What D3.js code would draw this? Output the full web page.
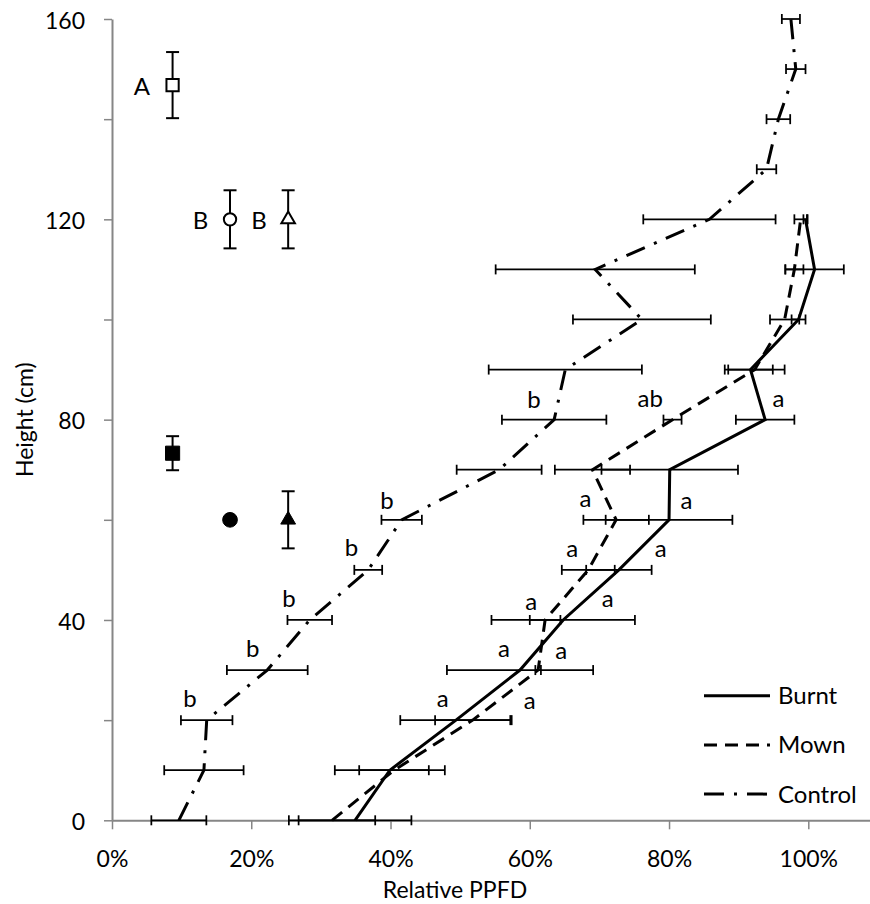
<!DOCTYPE html>
<html>
<head>
<meta charset="utf-8">
<script src="https://cdn.jsdelivr.net/npm/d3@7/dist/d3.min.js"></script>
<style>
body { margin: 0; background: #fff; }
</style>
</head>
<body>
<div id="wrapper"></div>
<script>
width = 870
height = 904

// heights of the light readings (cm)
const heights = [0, 10, 20, 30, 40, 50, 60, 70, 80, 90, 100, 110, 120, 130, 140, 150, 160]

// relative PPFD (%) and error
const burntMean = [34.9, 39.9, 49.4, 58.6, 64.8, 72.8, 80.0, 80.1, 93.8, 91.7, 98.6, 100.9, 99.6]
const burntErr = [8.1, 7.9, 8.0, 10.5, 10.3, 4.7, 9.1, 9.8, 4.2, 3.2, 1.0, 4.2, 0.3]
const mownMean = [31.6, 40.5, 51.8, 61.2, 62.2, 68.4, 72.4, 69.0, 80.5, 92.3, 96.6, 98.0, 98.9]
const mownErr = [6.2, 5.0, 5.4, 0.4, 2.2, 3.8, 4.7, 5.4, 1.3, 4.3, 2.1, 1.3, 0.9]
const controlMean = [9.6, 13.2, 13.6, 22.3, 28.4, 36.8, 41.6, 55.6, 63.5, 65.1, 76.1, 69.4, 85.8, 94.0, 95.7, 98.2, 97.5]
const controlErr = [3.95, 5.7, 3.7, 5.8, 3.2, 2.0, 2.9, 6.1, 7.5, 11.0, 9.9, 14.3, 9.5, 1.4, 1.7, 1.4, 1.3]

// canopy height markers (open / filled): square, circle, triangle
const markerShape = ["square", "circle", "triangle", "square", "circle", "triangle"]
const markerFilled = [false, false, false, true, true, true]
const markerX = [8.7, 16.95, 25.3, 8.7, 16.95, 25.3]
const markerH = [146.8, 120, 120, 73.3, 60, 60]
const markerErr = [6.6, 5.8, 5.8, 3.4, 0, 5.7]

// letters: text, x (%), baseline height (cm)
const letterText = ["A", "B", "B",
    "b", "b", "b", "b", "b", "b",
    "ab", "a", "a", "a", "a", "a", "a", "a", "a", "a", "a", "a"]
const letterX = [4.3, 12.7, 21.1,
    60.6, 39.5, 34.4, 25.4, 20.2, 11.2,
    77.3, 95.7, 68.0, 82.5, 66.1, 78.8, 60.2, 71.2, 56.3, 64.5, 47.5, 60.0]
const letterH = [144.8, 118.1, 118.1,
    82.3, 62.1, 52.8, 42.5, 32.7, 22.6,
    82.6, 82.6, 62.6, 62.2, 52.6, 52.6, 42.0, 42.6, 32.7, 32.2, 22.6, 22.2]

const seriesNames = ["Burnt", "Mown", "Control"]
const seriesDash = [null, "13,8", "20,10,3,10"]

const xTicks = [0, 20, 40, 60, 80, 100]
const yTicks = [0, 20, 40, 60, 80, 100, 120, 140, 160]

const font = "Lato, 'Open Sans', sans-serif"
const axisGrey = "#868686"

const svg = d3.select("#wrapper").append("svg")
    .attr("width", width)
    .attr("height", height)
    .style("font-family", font)
    .style("display", "block")

var x = d3.scaleLinear()
    .domain([0, 125])
    .range([112, 112 + 125 * 6.963])

var y = d3.scaleLinear()
    .domain([0, 160])
    .range([820.3, 19])

// axes
var xAxis = g => g
    .attr("transform", `translate(0, ${y(0)})`)
    .call(d3.axisBottom(x).tickValues(xTicks).tickFormat(d => d + "%").tickSize(9).tickSizeOuter(0))
    .call(g => g.select(".domain").attr("stroke", axisGrey).attr("stroke-width", 2))
    .call(g => g.selectAll(".tick line").attr("stroke", axisGrey).attr("stroke-width", 1.5))
    .call(g => g.selectAll(".tick text")
        .attr("y", 47).attr("dy", 0)
        .attr("fill", "#000")
        .style("font-size", "23px").style("font-family", font))

var yAxis = g => g
    .attr("transform", `translate(${x(0)}, 0)`)
    .call(d3.axisLeft(y).tickValues(yTicks).tickFormat(d => d % 40 === 0 ? d : "").tickSize(8).tickPadding(19).tickSizeOuter(0))
    .call(g => g.select(".domain").attr("stroke", axisGrey).attr("stroke-width", 2))
    .call(g => g.selectAll(".tick line").attr("stroke", axisGrey).attr("stroke-width", 1.5))
    .call(g => g.selectAll(".tick text")
        .attr("dy", "0.4em")
        .attr("fill", "#000")
        .style("font-size", "23px").style("font-family", font))

svg.append("g").call(yAxis)
svg.append("g").call(xAxis)

svg.append("text")
    .attr("x", 455)
    .attr("y", 898)
    .attr("text-anchor", "middle")
    .style("font-size", "23px")
    .text("Relative PPFD")

svg.append("text")
    .attr("transform", `translate(33, ${(y(0) + y(160)) / 2}) rotate(-90)`)
    .attr("text-anchor", "middle")
    .style("font-size", "23px")
    .text("Height (cm)")

// build series records
function makeSeries(means, errs) {
    return means.map((m, i) => ({ h: heights[i], m: m, e: errs[i] }))
}
var series = [
    makeSeries(burntMean, burntErr),
    makeSeries(mownMean, mownErr),
    makeSeries(controlMean, controlErr)
]

// horizontal error bars
var capH = 5
series.forEach(s => {
    var g = svg.append("g")
        .attr("stroke", "#000")
        .attr("stroke-width", 1.75)
        .attr("fill", "none")
    var bar = g.selectAll("g").data(s).join("g")
    bar.append("line")
        .attr("x1", d => x(d.m - d.e)).attr("x2", d => x(d.m + d.e))
        .attr("y1", d => y(d.h)).attr("y2", d => y(d.h))
    bar.append("line")
        .attr("x1", d => x(d.m - d.e)).attr("x2", d => x(d.m - d.e))
        .attr("y1", d => y(d.h) - capH).attr("y2", d => y(d.h) + capH)
    bar.append("line")
        .attr("x1", d => x(d.m + d.e)).attr("x2", d => x(d.m + d.e))
        .attr("y1", d => y(d.h) - capH).attr("y2", d => y(d.h) + capH)
})

// series lines
var line = d3.line()
    .x(d => x(d.m))
    .y(d => y(d.h))

series.forEach((s, i) => {
    svg.append("path")
        .datum(s)
        .attr("fill", "none")
        .attr("stroke", "#000")
        .attr("stroke-width", 3)
        .attr("stroke-dasharray", seriesDash[i])
        .attr("d", line)
})

// marker error bars (vertical)
var markers = markerX.map((v, i) => ({
    x: v, h: markerH[i], e: markerErr[i], shape: markerShape[i], filled: markerFilled[i]
}))

var mg = svg.append("g")
    .attr("stroke", "#000")
    .attr("stroke-width", 2)
mg.selectAll("g").data(markers.filter(d => d.e > 0)).join("g")
    .each(function (d) {
        var g = d3.select(this)
        var cx = x(d.x)
        g.append("line").attr("x1", cx).attr("x2", cx).attr("y1", y(d.h - d.e)).attr("y2", y(d.h + d.e))
        g.append("line").attr("x1", cx - 6.5).attr("x2", cx + 6.5).attr("y1", y(d.h - d.e)).attr("y2", y(d.h - d.e))
        g.append("line").attr("x1", cx - 6.5).attr("x2", cx + 6.5).attr("y1", y(d.h + d.e)).attr("y2", y(d.h + d.e))
    })

var symbolType = { square: d3.symbolSquare, circle: d3.symbolCircle, triangle: d3.symbolTriangle }
var symbolSize = { square: [150, 200], circle: [120, 170], triangle: [80, 95] }

svg.append("g").selectAll("path")
    .data(markers)
    .join("path")
    .attr("transform", d => `translate(${x(d.x)}, ${y(d.h)})`)
    .attr("d", d => d3.symbol().type(symbolType[d.shape]).size(symbolSize[d.shape][d.filled ? 1 : 0])())
    .attr("fill", d => d.filled ? "#000" : "#fff")
    .attr("stroke", "#000")
    .attr("stroke-width", d => d.filled ? 1 : 2)

// significance letters
svg.append("g").selectAll("text")
    .data(letterText)
    .join("text")
    .attr("x", (d, i) => x(letterX[i]))
    .attr("y", (d, i) => y(letterH[i]))
    .attr("text-anchor", "middle")
    .style("font-size", "24px")
    .text(d => d)

// legend
var legend = svg.append("g")
legend.selectAll("g")
    .data(seriesNames)
    .join("g")
    .attr("transform", (d, i) => `translate(704, ${695.7 + i * 49.2})`)
    .each(function (d, i) {
        var g = d3.select(this)
        g.append("line")
            .attr("x1", 0).attr("x2", 66)
            .attr("stroke", "#000")
            .attr("stroke-width", 3)
            .attr("stroke-dasharray", seriesDash[i])
        g.append("text")
            .attr("x", 74)
            .attr("y", 8.5)
            .style("font-size", "24px")
            .text(d)
    })
</script>
</body>
</html>
